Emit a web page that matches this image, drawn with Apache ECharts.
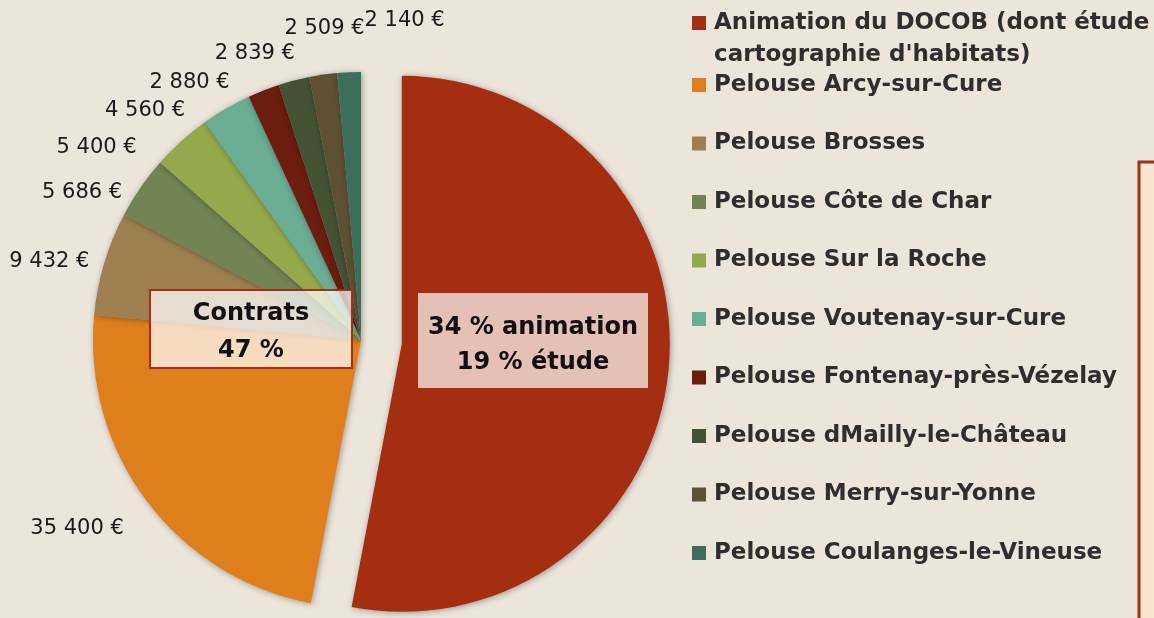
<!DOCTYPE html>
<html>
<head>
<meta charset="utf-8">
<script src="https://cdn.jsdelivr.net/npm/echarts@6/dist/echarts.min.js"></script>
<style>
  html, body { margin: 0; padding: 0; background: #ebe5da; }
  #chart { width: 1154px; height: 618px; }
</style>
</head>
<body>
<div id="chart"></div>
<script>
const FONT = 'DejaVu Sans, Noto Sans, sans-serif'

// catégories du budget (ordre horaire depuis midi)
const categories = [
  'Animation du DOCOB (dont étude\ncartographie d\'habitats)',
  'Pelouse Arcy-sur-Cure',
  'Pelouse Brosses',
  'Pelouse Côte de Char',
  'Pelouse Sur la Roche',
  'Pelouse Voutenay-sur-Cure',
  'Pelouse Fontenay-près-Vézelay',
  'Pelouse dMailly-le-Château',
  'Pelouse Merry-sur-Yonne',
  'Pelouse Coulanges-le-Vineuse',
]
// montants en euros (animation estimée : ~53 % du total)
const values = [79890, 35400, 9432, 5686, 5400, 4560, 2880, 2839, 2509, 2140]
const colors = ['#a52e10', '#df7f1b', '#9e8050', '#718453', '#94a94c', '#69ad93', '#6b1d0e', '#435334', '#5e5033', '#3b6e5b']

// placement des étiquettes façon Excel (longueurs du trait de repère, invisible)
const lineLen = [0, 45, 5, -8, -8, -2, 8, 28, 47, 52]
const lineLen2 = [0, -18, 5, 20, 45, 37, 26, -13, -53, -103]

const fmt = (v) => String(v).replace(/\B(?=(\d{3})+(?!\d))/g, ' ') + ' €'

const chart = echarts.init(document.getElementById('chart'))

const legendText = { color: '#2e2e2e', fontSize: 23, fontWeight: 'bold', fontFamily: FONT }
const firstLines = categories[0].split('\n')

chart.setOption({
  backgroundColor: '#ebe5da',
  animation: false,
  legend: [
    {
      // 1re entrée : l'icône reste sur la 1re ligne, la suite est posée en dessous
      data: [categories[0]],
      formatter: () => firstLines[0],
      left: 687,
      top: 2,
      icon: 'rect',
      itemWidth: 14,
      itemHeight: 14,
      selectedMode: false,
      textStyle: Object.assign({}, legendText, { lineHeight: 32, padding: [0, 0, 0, 3] }),
    },
    {
      data: categories.slice(1),
      left: 687,
      top: 68,
      orient: 'vertical',
      icon: 'rect',
      itemWidth: 14,
      itemHeight: 14,
      itemGap: 34.5,
      selectedMode: false,
      textStyle: Object.assign({}, legendText, { lineHeight: 24, padding: [0, 0, 0, 3] }),
    },
  ],
  series: [
    {
      type: 'pie',
      center: [361, 340],
      radius: 268,
      startAngle: 90,
      clockwise: true,
      selectedMode: 'single',
      selectedOffset: 41,
      avoidLabelOverlap: false,
      emphasis: { disabled: true },
      itemStyle: { shadowBlur: 6, shadowColor: 'rgba(0,0,0,0.35)', shadowOffsetX: 1, shadowOffsetY: 1 },
      label: {
        position: 'outside',
        formatter: (p) => fmt(p.value),
        color: '#1a1a1a',
        fontSize: 21,
        fontFamily: FONT,
      },
      labelLine: { show: false },
      data: values.map((v, i) => ({
        name: categories[i],
        value: v,
        selected: i === 0,
        label: { show: i > 0 },
        labelLine: { show: false, length: lineLen[i], length2: lineLen2[i] },
        itemStyle: { color: colors[i] },
      })),
    },
  ],
  graphic: [
    {
      type: 'text',
      x: 714,
      y: 55,
      style: {
        text: firstLines[1],
        fill: '#2e2e2e',
        font: 'bold 23px ' + FONT,
        verticalAlign: 'middle',
      },
    },
    {
      type: 'rect',
      shape: { x: 150, y: 290, width: 202, height: 78 },
      style: { fill: 'rgba(255,255,255,0.72)', stroke: '#a33015', lineWidth: 2 },
      z: 100,
    },
    {
      type: 'text',
      x: 251,
      y: 332,
      style: {
        text: 'Contrats\n47 %',
        fill: '#111',
        font: 'bold 24px ' + FONT,
        lineHeight: 37,
        align: 'center',
        verticalAlign: 'middle',
      },
      z: 101,
    },
    {
      type: 'rect',
      shape: { x: 418, y: 293, width: 230, height: 95 },
      style: { fill: 'rgba(255,255,255,0.7)' },
      z: 100,
    },
    {
      type: 'text',
      x: 533,
      y: 345,
      style: {
        text: '34 % animation\n19 % étude',
        fill: '#111',
        font: 'bold 24px ' + FONT,
        lineHeight: 35,
        align: 'center',
        verticalAlign: 'middle',
      },
      z: 101,
    },
    {
      type: 'rect',
      shape: { x: 1139, y: 162, width: 40, height: 480 },
      style: { fill: '#fbe4cf', stroke: '#a33015', lineWidth: 3 },
      z: 100,
    },
  ],
})
</script>
</body>
</html>
